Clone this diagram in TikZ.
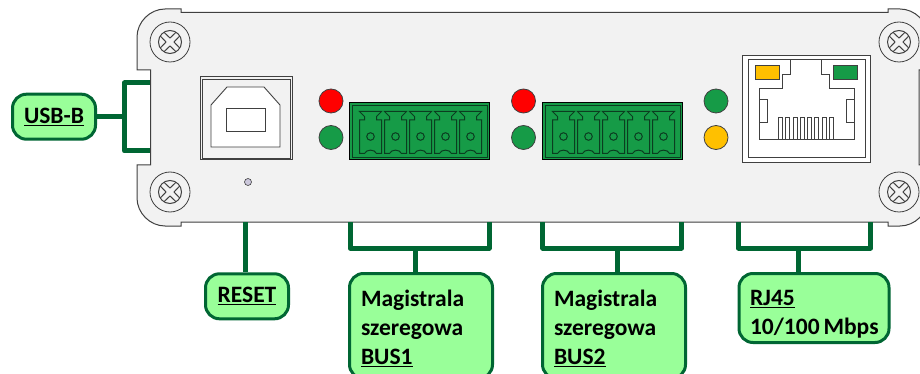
\documentclass[tikz,border=0pt]{standalone}
\usepackage{fontspec}
\setmainfont{Carlito}
\usetikzlibrary{positioning,calc}
\definecolor{panelgray}{HTML}{F2F2F2}
\definecolor{linkgreen}{HTML}{006633}
\definecolor{tagfill}{HTML}{99FF99}
\definecolor{ledgreen}{HTML}{169B47}
\definecolor{ledamber}{HTML}{FFC000}
\definecolor{ledred}{HTML}{FF0000}
\definecolor{blockdark}{HTML}{0B3D20}
\definecolor{resetdot}{HTML}{CCC8DC}
\definecolor{edgegray}{HTML}{404040}

\tikzset{
  tag/.style={draw=linkgreen, fill=tagfill, line width=3pt, rounded corners=14pt,
              align=left, anchor=north west, inner sep=0pt, text=black,
              font=\fontsize{23.5}{29}\selectfont\bfseries},
  link/.style={draw=linkgreen, line width=5pt, line join=round},
  led/.style={circle, draw=edgegray, line width=0.8pt, minimum size=24pt, inner sep=0pt},
  part/.style={draw=edgegray, line width=1pt}
}
% one screw head, at its centre
\newcommand{\screwhead}[1]{
  \begin{scope}[shift={(#1)}]
    \draw[part, line width=0.8pt] (0,0) circle (20);
    \draw[part, line width=1pt] (0,0) circle (11.5);
    \foreach \a in {0,90,180,270}
      \draw[part, rotate=\a, line width=1pt] (-6,9.7) -- (0,4) -- (6,9.7);
  \end{scope}
}
% one green plug block, with its left edge at x
\newcommand{\plugblock}[1]{
  \begin{scope}[xshift=#1pt]
    \draw[draw=black, fill=ledgreen, line width=1pt] (0,0) rectangle (140,57);
    \draw[draw=blockdark, line width=1pt] (2.5,3) rectangle (138,55);
    \foreach \i in {0,...,4}{
      \begin{scope}[xshift=\i*25pt]
        \draw[draw=blockdark, line width=1pt] (10,50.5) -- (10,17) -- (15,17) -- (15,13.5)
          -- (10,8.5) -- (32,8.5) -- (27,13.5) -- (27,17) -- (32,17) -- (32,50.5)
          -- (27,50.5) .. controls (25,46) and (17,46) .. (15,50.5) -- cycle;
        \draw[draw=blockdark, line width=1pt] (21,33.5) circle (3.8);
      \end{scope}
    }
  \end{scope}
}

\begin{document}
\begin{tikzpicture}[x=1pt, y=-1pt]
\clip (0,0) rectangle (920,374);
\fill[white] (0,0) rectangle (920,374);

% housing
\draw[part, fill=panelgray] (181,9) -- (165,9) .. controls (150,9) and (137,22) .. (137,37) -- (137,70)
  -- (150.5,70) -- (150.5,165) -- (137,165) -- (137,198) .. controls (137,213) and (150,226) .. (165,226)
  -- (181,226) -- (181,222) -- (888,222) -- (888,226) -- (900,226) .. controls (915,226) and (928,213) .. (928,198)
  -- (928,165) -- (919,165) -- (919,70) -- (928,70) -- (928,37)
  .. controls (928,22) and (915,9) .. (900,9) -- (888,9) -- (888,12.5) -- (181,12.5) -- cycle;
\screwhead{170,42}
\screwhead{170,192}
\screwhead{899,42}
\screwhead{899,192}

% USB socket
\draw[part, fill=panelgray] (200,77) rectangle (292.5,160);
\draw[part, line width=0.8pt] (202,79) rectangle (290.5,158);
\draw[part, fill=white, line width=0.9pt] (211,147) -- (280,147) -- (280,105) -- (264,87) -- (227,87) -- (211,105) -- cycle;
\draw[part, line width=0.9pt] (226.5,108) rectangle (265,131);
\draw[part, fill=resetdot, line width=0.6pt] (248,182) circle (3.5);

% LEDs
\node[led, fill=ledred] (redA) at (331,101) {};
\node[led, fill=ledgreen] (greenA) at (331,137.5) {};
\node[led, fill=ledred] (redB) at (523.5,101) {};
\node[led, fill=ledgreen] (greenB) at (523.5,137.5) {};
\node[led, fill=ledgreen] (linkled) at (716,101) {};
\node[led, fill=ledamber] (speedled) at (716,137.5) {};

% plug blocks
\begin{scope}[yshift=-103pt]
\plugblock{349.5}
\plugblock{542.5}
\end{scope}

% RJ45 socket
\draw[part, fill=white] (742.5,55.5) rectangle (870,162.3);
\draw[part] (748.7,60) rectangle (865.3,157.3);
\draw[part] (759.3,139.3) -- (759.3,89) -- (782.7,89) -- (782.7,74.7) -- (790.7,74.7) -- (790.7,60)
  -- (821.3,60) -- (821.3,74.7) -- (829.3,74.7) -- (829.3,89) -- (854.3,89) -- (854.3,139.3) -- cycle;
\draw[part] (759.3,100) rectangle (767.3,122.3);
\draw[part] (846.7,100) rectangle (854.3,122.3);
\foreach \i in {0,...,7}
  \draw[part, line width=0.8pt] ({778.5+\i*7.25},139.3) -- ({778.5+\i*7.25},117.5) -- ({782.5+\i*7.25},117.5) -- ({782.5+\i*7.25},139.3);
\draw[part, fill=ledamber] (755,66) rectangle (779,79.3);
\draw[part, fill=ledgreen] (833.3,66) rectangle (857.7,79.3);

% tags
\node[tag, minimum width=83pt, minimum height=45pt, align=center, anchor=center] (usbtag) at (54,116.7) {\underline{USB-B}};
\node[tag, minimum width=83pt, minimum height=45pt, align=center, anchor=center] (resettag) at (247,296.3) {\underline{RESET}};
\node[tag, minimum width=143pt, minimum height=105pt, text width=120pt] (busonetag) at (348,272) {\rule{0pt}{22pt}Magistrala\\szeregowa\\\underline{BUS1}};
\node[tag, minimum width=143pt, minimum height=105pt, text width=120pt] (bustwotag) at (541,272) {\rule{0pt}{22pt}Magistrala\\szeregowa\\\underline{BUS2}};
\node[tag, minimum width=150pt, minimum height=69pt, text width=128pt] (rjtag) at (737.5,272) {\rule{0pt}{28pt}\underline{RJ45}\\10/100\,Mbps};

% connectors
\coordinate (usbjoin) at (124.5,116.7);
\coordinate (usbtop) at (150,83);
\coordinate (usbbot) at (150,151);
\coordinate (resetport) at (245,222);
\coordinate (busonejoin) at (415,248);
\coordinate (busonel) at (350,222);
\coordinate (busoner) at (489,222);
\coordinate (bustwojoin) at (617,248);
\coordinate (bustwol) at (542.7,222);
\coordinate (bustwor) at (681.7,222);
\coordinate (rjjoin) at (798.7,248);
\coordinate (rjl) at (738.3,222);
\coordinate (rjr) at (870.7,222);
\draw[link] (usbtop) -- (usbjoin|-usbtop) -- (usbjoin|-usbbot) -- (usbbot);
\draw[link] (usbtag.east) -- (usbjoin);
\draw[link] (resetport) -- (resetport|-resettag.north);
\draw[link] (busonel) -- (busonel|-busonejoin) -- (busoner|-busonejoin) -- (busoner);
\draw[link] (busonejoin) -- (busonejoin|-busonetag.north);
\draw[link] (bustwol) -- (bustwol|-bustwojoin) -- (bustwor|-bustwojoin) -- (bustwor);
\draw[link] (bustwojoin) -- (bustwojoin|-bustwotag.north);
\draw[link] (rjl) -- (rjl|-rjjoin) -- (rjr|-rjjoin) -- (rjr);
\draw[link] (rjjoin) -- (rjjoin|-rjtag.north);
\end{tikzpicture}
\end{document}
